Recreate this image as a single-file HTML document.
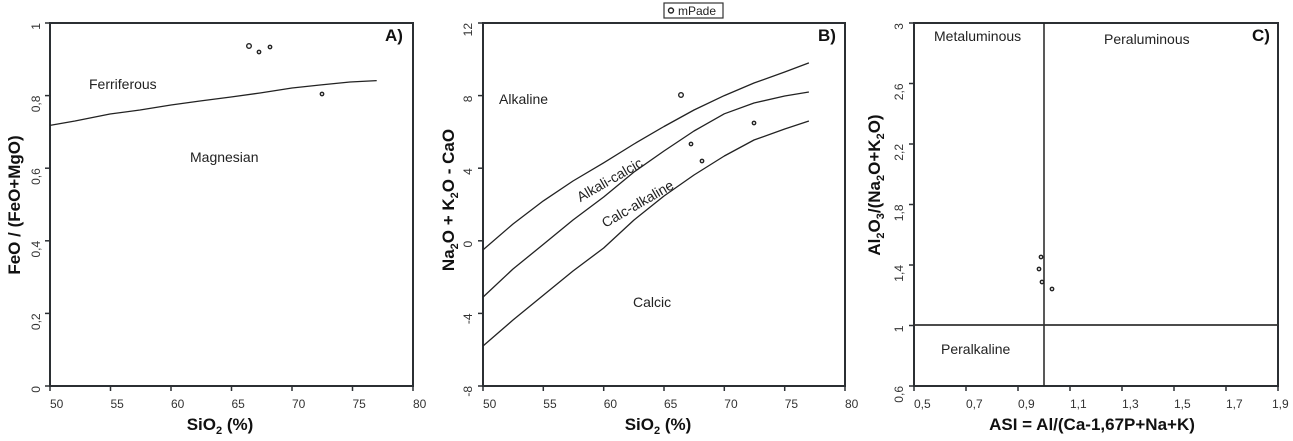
<!DOCTYPE html>
<html><head><meta charset="utf-8"><style>
html,body{margin:0;padding:0;background:#fff;}
svg{display:block;font-family:"Liberation Sans",Arial,sans-serif;}
.ax{stroke:#2b2f33;stroke-width:2;fill:none;}
.tk{stroke:#2b2f33;stroke-width:1.5;}
.tl{font-size:12px;fill:#333;}
.ttl{font-size:17px;font-weight:bold;fill:#111;}
.lab{font-size:14px;fill:#222;}
.pn{font-size:17px;font-weight:bold;fill:#111;}
.cv{stroke:#222;stroke-width:1.3;fill:none;stroke-linejoin:round;}
.pt{fill:none;stroke:#222;stroke-width:1.4;}
</style></head><body>
<svg width="1293" height="441" viewBox="0 0 1293 441">
<!-- Panel A -->
<rect class="ax" x="50" y="23" width="363" height="363"/>
<g class="tk">
<line x1="50" y1="386" x2="50" y2="391"/><line x1="110.5" y1="386" x2="110.5" y2="391"/><line x1="171" y1="386" x2="171" y2="391"/><line x1="231.5" y1="386" x2="231.5" y2="391"/><line x1="292" y1="386" x2="292" y2="391"/><line x1="352.5" y1="386" x2="352.5" y2="391"/><line x1="413" y1="386" x2="413" y2="391"/>
<line x1="45" y1="386" x2="50" y2="386"/><line x1="45" y1="313.4" x2="50" y2="313.4"/><line x1="45" y1="240.8" x2="50" y2="240.8"/><line x1="45" y1="168.2" x2="50" y2="168.2"/><line x1="45" y1="95.6" x2="50" y2="95.6"/><line x1="45" y1="23" x2="50" y2="23"/>
</g>
<g class="tl">
<text x="50" y="408">50</text><text x="110.5" y="408">55</text><text x="171" y="408">60</text><text x="231.5" y="408">65</text><text x="292" y="408">70</text><text x="352.5" y="408">75</text><text x="413" y="408">80</text>
<g text-anchor="end">
<text transform="translate(40,386) rotate(-90)">0</text>
<text transform="translate(40,313.4) rotate(-90)">0,2</text>
<text transform="translate(40,240.8) rotate(-90)">0,4</text>
<text transform="translate(40,168.2) rotate(-90)">0,6</text>
<text transform="translate(40,95.6) rotate(-90)">0,8</text>
<text transform="translate(40,23) rotate(-90)">1</text>
</g></g>
<text class="ttl" text-anchor="middle" x="220" y="430">SiO<tspan font-size="11" dy="4">2</tspan><tspan dy="-4"> (%)</tspan></text>
<text class="ttl" text-anchor="middle" transform="translate(20,205) rotate(-90)">FeO / (FeO+MgO)</text>
<polyline class="cv" points="50,125.4 75,121 110,114 140,110 171,105 200,101 231,97 260,93 292,88 320,85 350,82 376.7,80.6"/>
<text class="lab" x="89" y="89">Ferriferous</text>
<text class="lab" x="190" y="162">Magnesian</text>
<text class="pn" x="385" y="41">A)</text>
<circle class="pt" cx="249" cy="46" r="2.3"/><circle class="pt" cx="259" cy="52" r="1.7"/><circle class="pt" cx="270" cy="47" r="1.7"/><circle class="pt" cx="322" cy="94" r="1.7"/>

<!-- Panel B -->
<rect class="ax" x="483" y="23" width="362" height="363"/>
<g class="tk">
<line x1="483" y1="386" x2="483" y2="391"/><line x1="543.3" y1="386" x2="543.3" y2="391"/><line x1="603.7" y1="386" x2="603.7" y2="391"/><line x1="664" y1="386" x2="664" y2="391"/><line x1="724.3" y1="386" x2="724.3" y2="391"/><line x1="784.7" y1="386" x2="784.7" y2="391"/><line x1="845" y1="386" x2="845" y2="391"/>
<line x1="478" y1="386" x2="483" y2="386"/><line x1="478" y1="313.4" x2="483" y2="313.4"/><line x1="478" y1="240.8" x2="483" y2="240.8"/><line x1="478" y1="168.2" x2="483" y2="168.2"/><line x1="478" y1="95.6" x2="483" y2="95.6"/><line x1="478" y1="23" x2="483" y2="23"/>
</g>
<g class="tl">
<text x="483" y="408">50</text><text x="543.3" y="408">55</text><text x="603.7" y="408">60</text><text x="664" y="408">65</text><text x="724.3" y="408">70</text><text x="784.7" y="408">75</text><text x="845" y="408">80</text>
<g text-anchor="end">
<text transform="translate(472,386) rotate(-90)">-8</text>
<text transform="translate(472,313.4) rotate(-90)">-4</text>
<text transform="translate(472,240.8) rotate(-90)">0</text>
<text transform="translate(472,168.2) rotate(-90)">4</text>
<text transform="translate(472,95.6) rotate(-90)">8</text>
<text transform="translate(472,23) rotate(-90)">12</text>
</g></g>
<text class="ttl" text-anchor="middle" x="658" y="430">SiO<tspan font-size="11" dy="4">2</tspan><tspan dy="-4"> (%)</tspan></text>
<text class="ttl" text-anchor="middle" transform="translate(454,200) rotate(-90)">Na<tspan font-size="11" dy="4">2</tspan><tspan dy="-4">O + K</tspan><tspan font-size="11" dy="4">2</tspan><tspan dy="-4">O - CaO</tspan></text>
<polyline class="cv" points="483,249.9 513,224 543.3,200.9 573,181 603.7,162.8 634,144 664,126.5 694,110 724.3,95.6 754,83 784.7,72 808.9,62.9"/>
<polyline class="cv" points="483,297.1 513,269 543.3,244.4 573,220 603.7,197 634,172 664,151 694,131 724.3,113.8 754,103 784.7,96 808.9,92"/>
<polyline class="cv" points="483,346 513,320 543.3,295.3 573,271 603.7,248 634,220 664,196 694,175 724.3,156 754,140 784.7,129 808.9,121"/>
<text class="lab" x="499" y="104">Alkaline</text>
<text class="lab" x="633" y="307">Calcic</text>
<text class="lab" text-anchor="middle" transform="translate(612,184) rotate(-30)">Alkali-calcic</text>
<text class="lab" text-anchor="middle" transform="translate(640,208) rotate(-30)">Calc-alkaline</text>
<text class="pn" x="818" y="41">B)</text>
<circle class="pt" cx="681" cy="95" r="2.3"/><circle class="pt" cx="691" cy="144" r="1.7"/><circle class="pt" cx="702" cy="161" r="1.7"/><circle class="pt" cx="754" cy="123" r="1.7"/>
<rect x="664" y="3" width="59" height="15" fill="#fff" stroke="#333" stroke-width="1.2"/>
<circle class="pt" cx="671" cy="10.5" r="2.5"/>
<text x="678" y="15" font-size="12" fill="#222">mPade</text>

<!-- Panel C -->
<rect class="ax" x="914" y="23" width="364" height="363"/>
<g class="tk">
<line x1="914" y1="386" x2="914" y2="391"/><line x1="966" y1="386" x2="966" y2="391"/><line x1="1018" y1="386" x2="1018" y2="391"/><line x1="1070" y1="386" x2="1070" y2="391"/><line x1="1122" y1="386" x2="1122" y2="391"/><line x1="1174" y1="386" x2="1174" y2="391"/><line x1="1226" y1="386" x2="1226" y2="391"/><line x1="1278" y1="386" x2="1278" y2="391"/>
<line x1="909" y1="386" x2="914" y2="386"/><line x1="909" y1="325.5" x2="914" y2="325.5"/><line x1="909" y1="265" x2="914" y2="265"/><line x1="909" y1="204.5" x2="914" y2="204.5"/><line x1="909" y1="144" x2="914" y2="144"/><line x1="909" y1="83.5" x2="914" y2="83.5"/><line x1="909" y1="23" x2="914" y2="23"/>
</g>
<g class="tl">
<text x="914" y="408">0,5</text><text x="966" y="408">0,7</text><text x="1018" y="408">0,9</text><text x="1070" y="408">1,1</text><text x="1122" y="408">1,3</text><text x="1174" y="408">1,5</text><text x="1226" y="408">1,7</text><text x="1272" y="408">1,9</text>
<g text-anchor="end">
<text transform="translate(903,386) rotate(-90)">0,6</text>
<text transform="translate(903,325.5) rotate(-90)">1</text>
<text transform="translate(903,265) rotate(-90)">1,4</text>
<text transform="translate(903,204.5) rotate(-90)">1,8</text>
<text transform="translate(903,144) rotate(-90)">2,2</text>
<text transform="translate(903,83.5) rotate(-90)">2,6</text>
<text transform="translate(903,23) rotate(-90)">3</text>
</g></g>
<text class="ttl" text-anchor="middle" x="1092" y="430">ASI = Al/(Ca-1,67P+Na+K)</text>
<text class="ttl" text-anchor="middle" transform="translate(880,185) rotate(-90)">Al<tspan font-size="11" dy="4">2</tspan><tspan dy="-4">O</tspan><tspan font-size="11" dy="4">3</tspan><tspan dy="-4">/(Na</tspan><tspan font-size="11" dy="4">2</tspan><tspan dy="-4">O+K</tspan><tspan font-size="11" dy="4">2</tspan><tspan dy="-4">O)</tspan></text>
<line x1="1044" y1="23" x2="1044" y2="386" stroke="#222" stroke-width="1.5"/>
<line x1="914" y1="325" x2="1278" y2="325" stroke="#333" stroke-width="1.8"/>
<text class="lab" x="934" y="41">Metaluminous</text>
<text class="lab" x="1104" y="44">Peraluminous</text>
<text class="lab" x="941" y="354">Peralkaline</text>
<text class="pn" x="1252" y="41">C)</text>
<circle class="pt" cx="1041" cy="257" r="1.7"/><circle class="pt" cx="1039" cy="269" r="1.7"/><circle class="pt" cx="1042" cy="282" r="1.7"/><circle class="pt" cx="1052" cy="289" r="1.7"/>
</svg>
</body></html>
